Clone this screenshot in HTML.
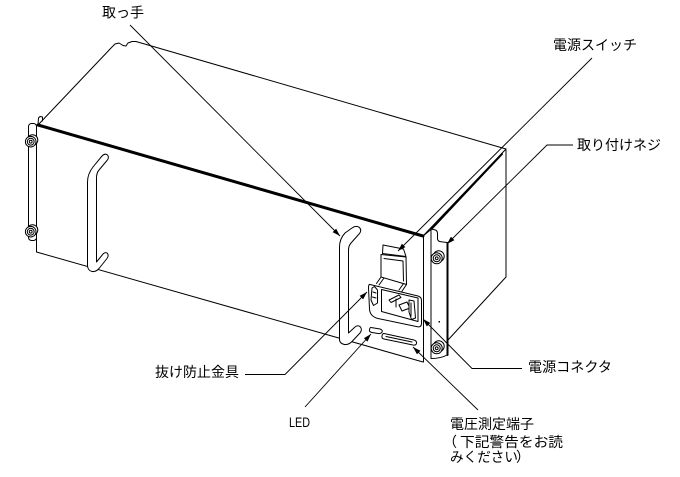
<!DOCTYPE html>
<html><head><meta charset="utf-8">
<style>html,body{margin:0;padding:0;background:#fff;width:680px;height:477px;overflow:hidden}svg{display:block}</style>
</head>
<body>
<svg width="680" height="477" viewBox="0 0 680 477" xmlns="http://www.w3.org/2000/svg">
<defs>
<marker id="ah" markerUnits="userSpaceOnUse" viewBox="0 0 8 5" refX="8" refY="2.5" markerWidth="8" markerHeight="5" orient="auto"><path d="M0,0 L8,2.5 L0,5 Z" fill="#000"/></marker>
</defs>
<rect width="680" height="477" fill="#fff"/>
<g fill="none" stroke="#000" stroke-width="1" stroke-linejoin="round" stroke-linecap="round">
  <!-- top face -->
  <path d="M38,125 L112,47 L115,44 L119,43 L123,45.5 L126,46 L128,43 L132,41.5 L136,41.5 L506,149"/>
  <path d="M506,149 L506,277 L448,340"/>
  <path d="M423,236 L506,149"/>
  <path d="M431,229.5 L502,154" stroke-width="2"/>
  <path d="M423,236 L431,229.5"/>
  <path d="M38,125 L423,236" stroke-width="3"/>
  <!-- front panel -->
  <path d="M36.5,125 L36.5,252 L423,362"/>
  <path d="M423.5,236 L423.5,362"/>
  <!-- left flange -->
  <rect x="28.5" y="123.5" width="8" height="117" rx="3" fill="#fff"/>
  <path d="M38,125 L38.5,118 L40,116.5 L42.5,117 L42.5,121"/>
  <!-- right flange -->
  <path d="M431,358.5 L431,229 L435.5,230 Q437.5,231 437.5,233.5 L437.5,239 Q438,241.5 441,241.8 L447,242.5 L447,355 Q441,358.5 431,358.5 Z" fill="#fff"/>
  <path d="M447.5,243 L447.5,355" stroke-width="2"/>
  <!-- screws -->
  <g fill="#fff">
    <circle cx="32.5" cy="140" r="5.3"/><circle cx="30.7" cy="141.7" r="5.3"/><circle cx="30.7" cy="141.7" r="3.4"/><circle cx="30.7" cy="141.7" r="1.4"/>
    <circle cx="32.5" cy="230" r="5.3"/><circle cx="30.7" cy="231.7" r="5.3"/><circle cx="30.7" cy="231.7" r="3.4"/><circle cx="30.7" cy="231.7" r="1.4"/>
    <circle cx="438.7" cy="256.3" r="5.5"/><circle cx="436.7" cy="258.3" r="5.5"/><circle cx="436.7" cy="258.3" r="3.5"/><circle cx="436.7" cy="258.3" r="1.4"/>
    <circle cx="438.7" cy="346.3" r="5.5"/><circle cx="436.7" cy="348.3" r="5.5"/><circle cx="436.7" cy="348.3" r="3.5"/><circle cx="436.7" cy="348.3" r="1.4"/>
  </g>
  <!-- handles -->
  <path fill="#fff" d="M87.5,266 L87.5,182 Q87.5,174 93,167 L102,156 Q105,153 107.5,155 Q109.5,157.5 107,160.5 L99,170 Q96.5,173 96.5,178 L96.5,262 L103,254 Q105.5,251.5 107.5,253.5 Q109,256 107,258.5 L99,268.5 Q96,272 92,271.5 Q88,270.5 87.5,266 Z"/>
  <path fill="#fff" d="M339.5,340 L339.5,247 Q339.5,239 345,233 L352,228 Q356,225 359.5,227.5 Q362,230.5 359.5,233.5 L351,243 Q348.5,246 348.5,250 L348.5,333 L355,327 Q358,324.5 360.5,327 Q362.5,330 360,333 L352,341.5 Q348.5,345 344.5,344.5 Q340,343.5 339.5,340 Z"/>
  <!-- connector frame -->
  <path fill="#fff" d="M370,284.5 L418,296 Q421.5,297 421.5,300.5 L421.5,324 Q421,327.5 417.5,326.8 L378,318.5 Q370,316.5 369.5,309 L368.5,288 Q368.5,284 370,284.5 Z"/>
  <path d="M381.5,289.5 L418,298 L418,321.5 L381.5,311.5 Z"/>
  <path d="M389,300 L399,295 L401,297.5 L391,302.5 Z"/>
  <path d="M396,299 L396,307"/>
  <path d="M399,305 L407,302 L410,308 L402,311 Z"/>
  <path d="M372,288 L374.5,286.5 L377.5,290 L377.5,303 L373.5,305.5 L371,300 Z" fill="#fff"/>
  <path d="M373,292 L376,293 M372.5,297 L376,298"/>
  <path d="M409,300 L414,301 L415.5,318 L411.5,319.5 L409,312 Z" fill="#fff"/>
  <path d="M411,303 L411,316"/>
  <!-- switch rocker -->
  <path d="M383,245 L403.5,249 L406,256.5 L382.5,253.5 Z" fill="#fff"/>
  <path d="M381,254.5 L406,257 L406.5,284.5 L381,277 Z" fill="#fff"/>
  <path d="M384,258.5 L403,261 L403.5,281"/>
  <path d="M381,277 L376.5,283.5 M384,278 L379,285 M406.5,284.5 L401.5,292 M403.5,283.5 L399,290"/>
  <!-- LED and voltage slot -->
  <path fill="#fff" d="M371,327.5 L380,329 Q383,330 382,332 Q381,334 378,333.5 L372,332.5 Q369,332 369.5,329.5 Q370,327.3 371,327.5 Z"/>
  <path fill="#fff" d="M384,333.5 L414,340 Q417,341 416.5,343.5 Q416,345.5 413,345 L384,339 Q381.5,338.5 382,336 Q382.5,333.3 384,333.5 Z"/>
  <path d="M386,336.5 L412,342"/>
</g>
<rect x="438.5" y="321" width="1.5" height="1.5" fill="#000"/>
<rect x="447" y="314.5" width="1.5" height="1.5" fill="#000"/>
<!-- leaders -->
<g fill="none" stroke="#000" stroke-width="0.9">
  <path d="M130,25 L340,236" marker-end="url(#ah)"/>
  <path d="M592,58 L398,251" marker-end="url(#ah)"/>
  <path d="M573,145 L547,145 L447,244" marker-end="url(#ah)"/>
  <path d="M522,368.5 L472,368.5 L423,319" marker-end="url(#ah)"/>
  <path d="M245,374.5 L285,374.5 L367,292" marker-end="url(#ah)"/>
  <path d="M305,407 L371,334" marker-end="url(#ah)"/>
  <path d="M478,410 L413,347" marker-end="url(#ah)"/>
</g>
<!-- labels -->
<g font-family="'Liberation Sans','Noto Sans CJK JP','IPAGothic',sans-serif" font-size="14" fill="#000">
  <text x="102" y="17.5" textLength="42" lengthAdjust="spacingAndGlyphs">取っ手</text>
  <text x="553" y="50" textLength="84" lengthAdjust="spacingAndGlyphs">電源スイッチ</text>
  <text x="577" y="150" textLength="84" lengthAdjust="spacingAndGlyphs">取り付けネジ</text>
  <text x="528" y="372" textLength="84" lengthAdjust="spacingAndGlyphs">電源コネクタ</text>
  <text x="155" y="377" textLength="84" lengthAdjust="spacingAndGlyphs">抜け防止金具</text>
  <text x="289" y="427" textLength="21" lengthAdjust="spacingAndGlyphs">LED</text>
  <text x="450" y="429" textLength="84" lengthAdjust="spacingAndGlyphs">電圧測定端子</text>
  <text x="443" y="447">（</text>
  <text x="460" y="447" textLength="103" lengthAdjust="spacingAndGlyphs">下記警告をお読</text>
  <text x="450" y="462" textLength="68" lengthAdjust="spacingAndGlyphs">みください</text>
  <text x="516" y="462">）</text>
</g>
</svg>
</body></html>
